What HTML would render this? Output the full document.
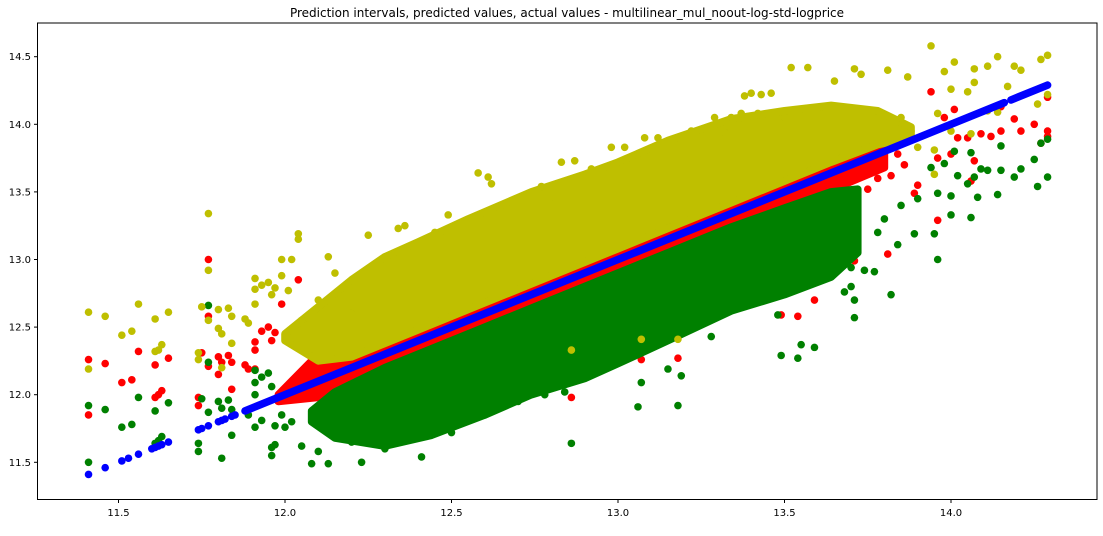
<!DOCTYPE html>
<html><head><meta charset="utf-8"><style>
html,body{margin:0;padding:0;background:#fff;}
svg{display:block;font-family:"DejaVu Sans","Liberation Sans",sans-serif;}
</style></head><body>
<svg id="chart" width="1103" height="536">
<text x="567" y="17" text-anchor="middle" font-size="12" fill="#000">Prediction intervals, predicted values, actual values - multilinear_mul_noout-log-std-logprice</text>
<g id="plot"></g>
<rect x="37.5" y="23" width="1059.5" height="476.5" fill="none" stroke="#000" stroke-width="1"/>
<g id="axes"></g>
</svg>
<script>
const xTicks = [11.5, 12.0, 12.5, 13.0, 13.5, 14.0];
const xTickLabels = ["11.5","12.0","12.5","13.0","13.5","14.0"];
const yTicks = [11.5, 12.0, 12.5, 13.0, 13.5, 14.0, 14.5];
const yTickLabels = ["11.5","12.0","12.5","13.0","13.5","14.0","14.5"];

// dense-cloud envelopes
const redBandX = [11.98,12.1,12.3,12.6,12.9,13.2,13.5,13.8];
const redBandHi = [12.0,12.3,12.45,12.73,13.03,13.33,13.63,13.92];
const redBandLo = [11.95,11.98,12.15,12.47,12.77,13.07,13.37,13.68];
const greenBandX = [12.08,12.15,12.3,12.44,12.6,12.74,12.9,13.0,13.15,13.34,13.5,13.64,13.72];
const greenBandHi = [11.88,12.02,12.2,12.34,12.5,12.64,12.8,12.9,13.05,13.24,13.38,13.5,13.52];
const greenBandLo = [11.8,11.68,11.62,11.7,11.85,12.0,12.12,12.23,12.4,12.62,12.74,12.87,13.05];
const yellowBandX = [12.0,12.1,12.2,12.3,12.4,12.55,12.74,12.9,13.0,13.15,13.34,13.5,13.64,13.78,13.88];
const yellowBandHi = [12.45,12.65,12.85,13.02,13.13,13.3,13.5,13.63,13.72,13.88,14.04,14.1,14.14,14.1,13.98];
const yellowBandLo = [12.4,12.25,12.28,12.38,12.48,12.63,12.82,12.98,13.08,13.23,13.42,13.58,13.72,13.85,13.9];

// individual points
const redX = [11.41,11.41,11.46,11.51,11.54,11.56,11.61,11.61,11.62,11.63,11.65,11.74,11.74,11.75,11.77,11.77,11.77,11.8,11.8,11.81,11.83,11.84,11.84,11.88,11.89,11.91,11.91,11.91,11.93,11.95,11.96,11.97,11.99,12.01,12.04,
 13.94,14.01,13.98,14.02,14.05,14.09,14.12,14.15,14.19,14.21,14.29,14.29,14.29,14.25,14.27,14.0,13.96,14.07,14.06,13.96,13.89,13.71,13.59,13.81,14.15,
 12.86,13.07,13.18,13.15,13.49,13.54,12.35,12.58,13.82,13.86,13.9,13.78,13.75,13.84];
const redY = [12.26,11.85,12.23,12.09,12.11,12.32,12.22,11.98,12.0,12.03,12.27,11.98,11.92,12.31,13.0,12.58,12.21,12.15,12.28,12.24,12.29,12.24,12.04,12.22,12.19,12.19,12.39,12.33,12.47,12.5,12.4,12.46,12.67,12.43,12.85,
 14.24,14.11,14.05,13.9,13.9,13.93,13.91,13.95,14.04,13.95,14.2,13.95,13.91,14.0,13.86,13.78,13.75,13.73,13.58,13.29,13.49,12.99,12.7,13.04,14.13,
 11.98,12.26,12.27,12.48,12.59,12.58,12.91,13.28,13.62,13.7,13.55,13.6,13.52,13.78];
const greenX = [11.41,11.41,11.46,11.51,11.54,11.56,11.61,11.61,11.62,11.63,11.65,11.74,11.74,11.75,11.77,11.77,11.77,11.8,11.81,11.81,11.83,11.84,11.84,11.89,11.91,11.91,11.91,11.91,11.93,11.93,11.95,11.96,11.96,11.97,11.97,11.99,12.0,
 14.29,14.29,14.27,14.25,14.26,14.21,14.19,14.15,14.14,14.15,14.11,14.09,14.07,14.06,14.08,14.06,14.05,14.02,14.0,14.0,13.98,14.01,13.96,13.96,13.95,13.94,13.89,13.84,13.82,13.77,13.71,13.68,13.74,13.7,13.63,13.59,13.55,
 12.86,13.06,13.18,13.49,13.54,13.15,12.41,12.23,12.13,12.08,
 12.78,12.84,12.93,13.07,13.19,13.28,13.38,13.48,13.70,13.71,13.8,13.85,13.9,13.78,
 12.05,12.1,12.2,12.3,12.35,12.5,12.6,12.7,11.96,12.02,12.25];
const greenY = [11.92,11.5,11.89,11.76,11.78,11.98,11.88,11.64,11.66,11.69,11.94,11.64,11.58,11.97,12.66,12.24,11.87,11.95,11.9,11.53,11.96,11.89,11.7,11.85,12.18,12.09,12.0,11.76,11.81,12.13,12.16,12.06,11.61,11.63,11.77,11.85,11.76,
 13.89,13.61,13.86,13.74,13.54,13.67,13.61,13.66,13.48,13.84,13.66,13.67,13.61,13.31,13.46,13.79,13.56,13.62,13.47,13.33,13.71,13.8,13.49,13.0,13.19,13.68,13.19,13.11,12.74,12.91,12.7,12.76,12.92,12.94,12.95,12.35,12.37,
 11.64,11.91,11.92,12.29,12.27,12.19,11.54,11.5,11.49,11.49,
 12.0,12.02,12.16,12.09,12.14,12.43,12.68,12.59,12.8,12.57,13.3,13.4,13.45,13.2,
 11.62,11.58,11.65,11.6,11.68,11.72,11.85,11.95,11.55,11.8,11.7];
const yellowX = [11.41,11.41,11.46,11.51,11.54,11.56,11.61,11.61,11.62,11.63,11.65,11.74,11.74,11.75,11.77,11.77,11.77,11.8,11.8,11.81,11.81,11.83,11.84,11.84,11.88,11.89,11.91,11.91,11.91,11.93,11.95,11.96,11.97,11.99,11.99,12.01,12.02,12.04,
 13.94,14.14,14.29,14.27,14.01,13.98,14.07,14.11,14.19,14.21,13.57,13.71,13.81,13.73,13.87,13.65,14.07,14.17,14.0,14.05,14.29,14.26,14.11,14.14,13.96,14.0,14.06,13.95,13.95,13.9,13.88,13.85,
 13.52,13.38,13.4,13.29,13.37,12.58,12.61,12.62,12.83,12.98,13.08,12.49,12.34,12.36,12.25,12.04,12.13,12.86,13.07,13.18,
 12.87,12.92,13.02,13.12,13.22,13.32,13.34,13.42,13.43,13.46,13.5,12.77,12.8,12.65,12.45,12.15,12.1,12.2,12.05];
const yellowY = [12.61,12.19,12.58,12.44,12.47,12.67,12.56,12.32,12.33,12.37,12.61,12.31,12.26,12.65,13.34,12.92,12.55,12.63,12.49,12.45,12.2,12.64,12.58,12.38,12.56,12.53,12.86,12.78,12.67,12.81,12.83,12.74,12.79,13.0,12.88,12.77,13.0,13.19,
 14.58,14.5,14.51,14.48,14.46,14.39,14.41,14.43,14.43,14.4,14.42,14.41,14.4,14.37,14.35,14.32,14.31,14.28,14.26,14.24,14.22,14.15,14.1,14.09,14.08,13.95,13.93,13.63,13.81,13.83,13.95,14.05,
 14.42,14.21,14.23,14.05,14.08,13.64,13.61,13.56,13.72,13.83,13.9,13.33,13.23,13.25,13.18,13.15,13.02,12.33,12.41,12.41,
 13.73,13.67,13.83,13.9,13.95,13.94,14.05,14.08,14.22,14.23,14.05,13.54,13.46,13.4,13.2,12.9,12.7,12.6,12.55];
// predicted values (lie on y = x): isolated points and continuous runs
const blueX = [11.41,11.46,11.51,11.53,11.56,11.6,11.61,11.62,11.63,11.65,11.74,11.75,11.77,11.8,11.81,11.82,11.84,11.85];
const blueRunStart = [11.88,14.18];
const blueRunEnd = [14.16,14.29];

const NS = "http://www.w3.org/2000/svg";
const plot = document.getElementById('plot');
const axes = document.getElementById('axes');
function sx(v){ return 118.5 + (v - 11.5) * 333; }
function sy(v){ return 56.7 + (14.5 - v) * 135.2; }
const R = 3.8;

function band(xs, hi, lo, color, name){
  let pts = [];
  for (let i = 0; i < xs.length; i++) pts.push(sx(xs[i]) + ',' + sy(hi[i]));
  for (let i = xs.length - 1; i >= 0; i--) pts.push(sx(xs[i]) + ',' + sy(lo[i]));
  const p = document.createElementNS(NS, 'polygon');
  p.setAttribute('points', pts.join(' '));
  p.setAttribute('fill', color);
  p.setAttribute('stroke', color);
  p.setAttribute('stroke-width', 2 * R);
  p.setAttribute('stroke-linejoin', 'round');
  
  
  plot.appendChild(p);
}
function dots(xs, ys, color, name){
  const g = document.createElementNS(NS, 'g');
  
  
  for (let i = 0; i < xs.length; i++){
    const c = document.createElementNS(NS, 'circle');
    c.setAttribute('cx', sx(xs[i]));
    c.setAttribute('cy', sy(ys[i]));
    c.setAttribute('r', R);
    c.setAttribute('fill', color);
    
    
    g.appendChild(c);
  }
  plot.appendChild(g);
}
band(redBandX, redBandHi, redBandLo, '#ff0000', 'actual-values-cloud');
dots(redX, redY, '#ff0000', 'actual-values');
band(greenBandX, greenBandHi, greenBandLo, '#008000', 'lower-interval-cloud');
dots(greenX, greenY, '#008000', 'lower-interval');
band(yellowBandX, yellowBandHi, yellowBandLo, '#bfbf00', 'upper-interval-cloud');
dots(yellowX, yellowY, '#bfbf00', 'upper-interval');
dots(blueX, blueX, '#0000ff', 'predicted-values');
for (let i = 0; i < blueRunStart.length; i++){
  const l = document.createElementNS(NS, 'line');
  l.setAttribute('x1', sx(blueRunStart[i])); l.setAttribute('y1', sy(blueRunStart[i]));
  l.setAttribute('x2', sx(blueRunEnd[i])); l.setAttribute('y2', sy(blueRunEnd[i]));
  l.setAttribute('stroke', '#0000ff');
  l.setAttribute('stroke-width', 2 * R);
  l.setAttribute('stroke-linecap', 'round');
  
  
  plot.appendChild(l);
}
for (let i = 0; i < xTicks.length; i++){
  const x = sx(xTicks[i]);
  const t = document.createElementNS(NS, 'line');
  t.setAttribute('x1', x); t.setAttribute('x2', x); t.setAttribute('y1', 499.5); t.setAttribute('y2', 503);
  t.setAttribute('stroke', '#000');
  
  
  axes.appendChild(t);
  const tx = document.createElementNS(NS, 'text');
  tx.setAttribute('x', x); tx.setAttribute('y', 516);
  tx.setAttribute('text-anchor', 'middle'); tx.setAttribute('font-size', '10');
  tx.textContent = xTickLabels[i];
  
  
  axes.appendChild(tx);
}
for (let i = 0; i < yTicks.length; i++){
  const y = sy(yTicks[i]);
  const t = document.createElementNS(NS, 'line');
  t.setAttribute('x1', 34); t.setAttribute('x2', 37.5); t.setAttribute('y1', y); t.setAttribute('y2', y);
  t.setAttribute('stroke', '#000');
  
  
  axes.appendChild(t);
  const tx = document.createElementNS(NS, 'text');
  tx.setAttribute('x', 31); tx.setAttribute('y', y + 3.5);
  tx.setAttribute('text-anchor', 'end'); tx.setAttribute('font-size', '10');
  tx.textContent = yTickLabels[i];
  
  
  axes.appendChild(tx);
}
</script>
</body></html>
